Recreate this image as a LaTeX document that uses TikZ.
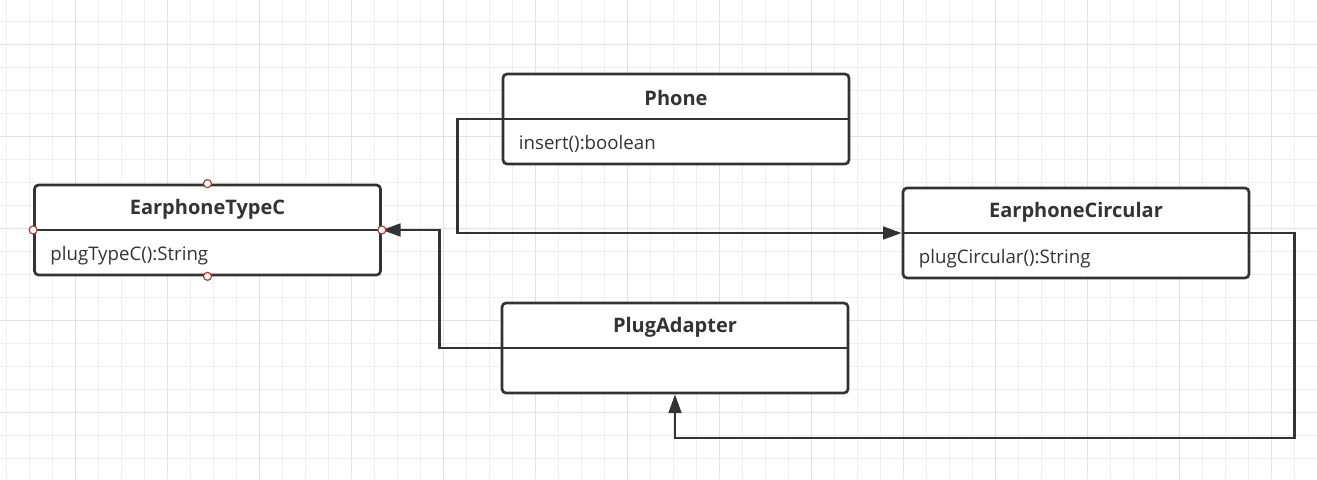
\documentclass[tikz,border=0pt]{standalone}
\usepackage{fontspec}
\setmainfont{Open Sans}
\usepackage{tikz}
\usetikzlibrary{arrows.meta,positioning,calc}
\definecolor{umlink}{HTML}{333333}
\definecolor{gridminor}{HTML}{EFEFEF}
\definecolor{gridmajor}{HTML}{E2E2E2}
\definecolor{handle}{HTML}{B03A3A}
\tikzset{
  cls/.style={draw=umlink,fill=white,rounded corners=3pt,line width=2pt,minimum width=259.5pt,minimum height=67.5pt,inner sep=0pt},
  divider/.style={draw=umlink,line width=1.6pt},
  ttl/.style={font=\fontsize{15}{17}\selectfont\bfseries,text=umlink,inner sep=0pt,yshift=-1.5pt},
  mem/.style={font=\fontsize{14}{16}\selectfont,text=umlink,anchor=west,inner sep=0pt,xshift=12.75pt,yshift=-1.5pt},
  arr/.style={-{Triangle[length=14pt,width=9.5pt]},line width=2pt,draw=umlink},
  gmin/.style={draw=gridminor,line width=0.75pt},
  gmaj/.style={draw=gridmajor,line width=0.75pt},
  hdl/.style={circle,draw=handle,fill=white,line width=0.9pt,inner sep=0pt,minimum size=6pt},
}
\begin{document}
\begin{tikzpicture}[x=0.75pt,y=-0.75pt]
  % background and grid
  \fill[white] (0,0) rectangle (1317,479);
  \useasboundingbox (0,0) rectangle (1317,479);
  \foreach \gx in {6.5,29.5,...,1317} \draw[gmin] (\gx,0) -- (\gx,479);
  \foreach \gy in {21.5,44.5,...,479} \draw[gmin] (0,\gy) -- (1317,\gy);
  \foreach \gx in {75.5,167.5,...,1317} \draw[gmaj] (\gx,0) -- (\gx,479);
  \foreach \gy in {44.5,136.5,...,479} \draw[gmaj] (0,\gy) -- (1317,\gy);

  % classes
  \node[cls] (typec) at (207.5,230) {};
  \node[cls] (phone) at (676,119) {};
  \node[cls] (circ) at (1076,233) {};
  \node[cls] (adapter) at (675,348) {};
  \foreach \c in {typec,phone,circ,adapter} \draw[divider] (\c.west) -- (\c.east);

  \node[ttl] (typec-t) at ($(typec.north)!.5!(typec.center)$) {EarphoneTypeC};
  \node[mem] (typec-m) at ($(typec.west)!.5!(typec.south west)$) {plugTypeC():String};
  \node[ttl] (phone-t) at ($(phone.north)!.5!(phone.center)$) {Phone};
  \node[mem] (phone-m) at ($(phone.west)!.5!(phone.south west)$) {insert():boolean};
  \node[ttl] (circ-t) at ($(circ.north)!.5!(circ.center)$) {EarphoneCircular};
  \node[mem] (circ-m) at ($(circ.west)!.5!(circ.south west)$) {plugCircular():String};
  \node[ttl] (adapter-t) at ($(adapter.north)!.5!(adapter.center)$) {PlugAdapter};

  % connectors
  \draw[arr] (phone.west) -- ++(-44,0) |- (circ.west);
  \draw[arr] (adapter.west) -- ++(-61,0) |- (typec.east);
  \draw[arr] (circ.east) -- ++(44,0) -- ++(0,205) -| (adapter.south);

  % selection handles
  \foreach \a in {north,south,east,west} \node[hdl] (typec-\a) at (typec.\a) {};
\end{tikzpicture}
\end{document}
